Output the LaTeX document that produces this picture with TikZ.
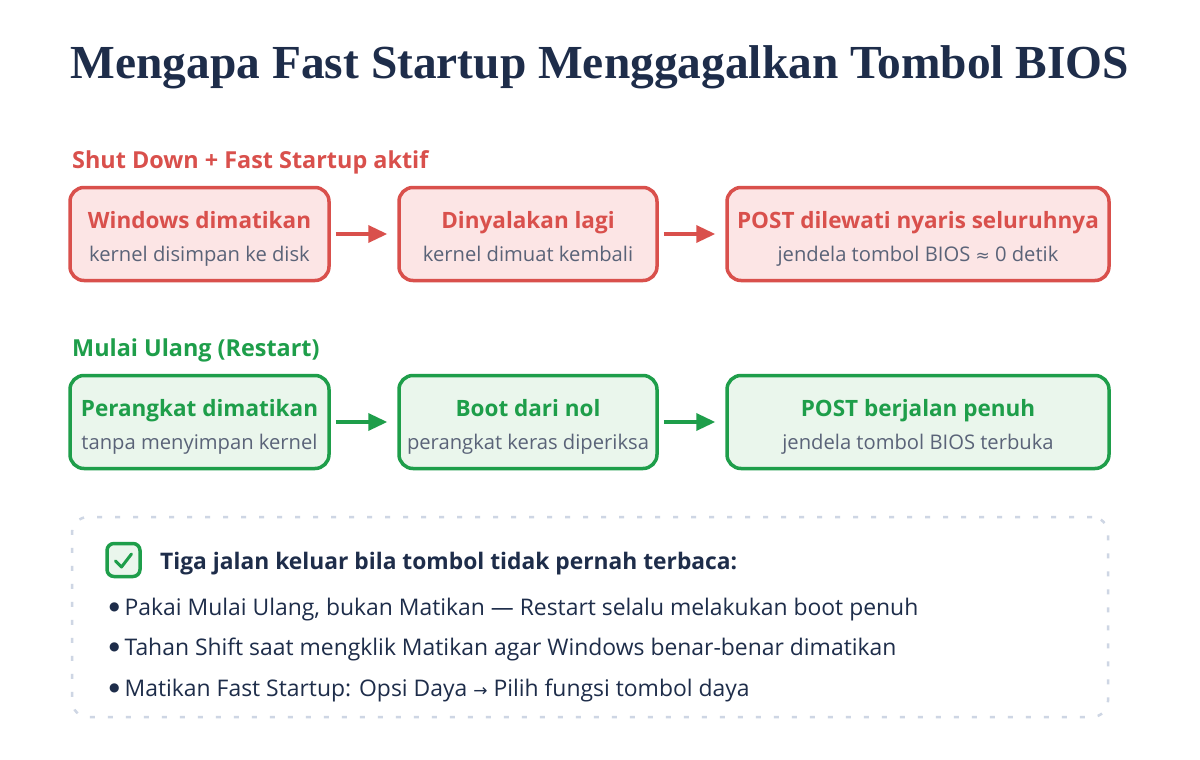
\documentclass[tikz,border=0pt]{standalone}
\usepackage{fontspec}
\setmainfont{Open Sans}
\newfontfamily\titlefont{Liberation Serif}
\newfontfamily\symfont{DejaVu Sans}
\usetikzlibrary{arrows.meta}
\definecolor{redc}{HTML}{D9504C}
\definecolor{redfill}{HTML}{FCE5E5}
\definecolor{greenc}{HTML}{1E9E4A}
\definecolor{greenfill}{HTML}{EAF6EC}
\definecolor{navy}{HTML}{1E2D4A}
\definecolor{subgray}{HTML}{5A6378}
\definecolor{dashc}{HTML}{CED6E4}
\newcommand{\bul}{\raisebox{5pt}{\symfont\fontsize{12}{13}\selectfont●}\hspace{5pt}}
\tikzset{
  redbox/.style={draw=redc, fill=redfill, line width=3.5pt, rounded corners=14pt, minimum height=93pt, inner sep=0pt},
  greenbox/.style={draw=greenc, fill=greenfill, line width=3.5pt, rounded corners=14pt, minimum height=93pt, inner sep=0pt},
  boxtitle/.style={anchor=base, inner sep=0pt, font=\fontsize{22.5}{26}\selectfont\bfseries},
  boxsub/.style={anchor=base, inner sep=0pt, text=subgray, font=\fontsize{20.2}{24}\selectfont},
  sechead/.style={anchor=base west, inner sep=0pt, font=\fontsize{23.4}{27}\selectfont\bfseries},
  redarrow/.style={draw=redc, line width=3.5pt, -{Triangle[length=19pt,width=17pt]}, shorten <=5pt, shorten >=10pt},
  greenarrow/.style={draw=greenc, line width=3.5pt, -{Triangle[length=19pt,width=17pt]}, shorten <=5pt, shorten >=10pt},
  bullet/.style={anchor=base west, inner sep=0pt, text=navy, font=\fontsize{22.9}{26}\selectfont},
}
\begin{document}
\begin{tikzpicture}[x=1pt,y=-1pt]
\useasboundingbox (0,0) rectangle (1200,760);
\fill[white] (0,0) rectangle (1200,760);
% title
\node[anchor=base, inner sep=0pt, text=navy, font=\fontsize{47.4}{56}\selectfont\titlefont\bfseries] (title) at (600,78) {Mengapa Fast Startup Menggagalkan Tombol BIOS};
% red section
\node[sechead, text=redc] (rhead) at (72,168) {Shut Down + Fast Startup aktif};
\node[redbox, minimum width=259pt] (r1) at (199.5,234) {};
\node[redbox, minimum width=258pt] (r2) at (528,234) {};
\node[redbox, minimum width=382pt] (r3) at (918,234) {};
\node[boxtitle, text=redc] (r1t) at (199.5,228) {Windows dimatikan};
\node[boxsub] (r1s) at (199.5,261) {kernel disimpan ke disk};
\node[boxtitle, text=redc] (r2t) at (528,228) {Dinyalakan lagi};
\node[boxsub] (r2s) at (528,261) {kernel dimuat kembali};
\node[boxtitle, text=redc] (r3t) at (918,228) {POST dilewati nyaris seluruhnya};
\node[boxsub] (r3s) at (918,261) {jendela tombol BIOS {\symfont\fontsize{17}{20}\selectfont≈} 0 detik};
\draw[redarrow] (r1.east) -- (r2.west);
\draw[redarrow] (r2.east) -- (r3.west);
% green section
\node[sechead, text=greenc] (ghead) at (72,356) {Mulai Ulang (Restart)};
\node[greenbox, minimum width=259pt] (g1) at (199.5,422) {};
\node[greenbox, minimum width=258pt] (g2) at (528,422) {};
\node[greenbox, minimum width=382pt] (g3) at (918,422) {};
\node[boxtitle, text=greenc] (g1t) at (199.5,416) {Perangkat dimatikan};
\node[boxsub] (g1s) at (199.5,449) {tanpa menyimpan kernel};
\node[boxtitle, text=greenc] (g2t) at (528,416) {Boot dari nol};
\node[boxsub] (g2s) at (528,449) {perangkat keras diperiksa};
\node[boxtitle, text=greenc] (g3t) at (918,416) {POST berjalan penuh};
\node[boxsub] (g3s) at (918,449) {jendela tombol BIOS terbuka};
\draw[greenarrow] (g1.east) -- (g2.west);
\draw[greenarrow] (g2.east) -- (g3.west);
% tips box
\node[draw=dashc, line width=2.5pt, dash pattern=on 5pt off 13pt, rounded corners=16pt, minimum width=1036pt, minimum height=200pt, inner sep=0pt] (tips) at (590,617) {};
\node[draw=greenc, fill=greenfill, line width=3.5pt, rounded corners=7pt, minimum size=33pt, inner sep=0pt] (check) at (123.5,560) {};
\draw[greenc, line width=3pt, line cap=round, line join=round] ([shift={(-8pt,-1pt)}]check.center) -- ([shift={(-2pt,-7pt)}]check.center) -- ([shift={(8pt,6pt)}]check.center);
\node[anchor=base west, inner sep=0pt, text=navy, font=\fontsize{22.8}{27}\selectfont\bfseries] (tipshead) at (160,569) {Tiga jalan keluar bila tombol tidak pernah terbaca:};
\node[bullet] (b1) at (109,615) {\bul Pakai Mulai Ulang, bukan Matikan — Restart selalu melakukan boot penuh};
\node[bullet] (b2) at (109,655) {\bul Tahan Shift saat mengklik Matikan agar Windows benar-benar dimatikan};
\node[bullet] (b3) at (109,696) {\bul Matikan Fast Startup: Opsi Daya {\symfont\fontsize{17}{20}\selectfont→} Pilih fungsi tombol daya};
\end{tikzpicture}
\end{document}
